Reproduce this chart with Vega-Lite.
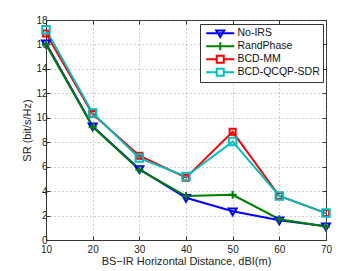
{
  "$schema": "https://vega.github.io/schema/vega-lite/v6.json",
  "width": 280,
  "height": 220,
  "autosize": {"type": "none"},
  "padding": {"left": 46, "top": 20, "right": 34, "bottom": 31},
  "background": "white",
  "config": {
    "font": "Liberation Sans",
    "view": {"stroke": "#333", "strokeWidth": 1},
    "axis": {
      "labelFont": "Liberation Sans",
      "titleFont": "Liberation Sans",
      "labelFontSize": 10,
      "titleFontSize": 11,
      "titleFontWeight": "normal",
      "labelColor": "#222",
      "titleColor": "#222",
      "domainColor": "#333",
      "tickColor": "#333",
      "tickSize": -4,
      "gridColor": "#777",
      "gridDash": [1, 3],
      "gridWidth": 0.7
    },
    "legend": {
      "labelFont": "Liberation Sans",
      "labelFontSize": 10.5,
      "labelFontWeight": "normal",
      "labelColor": "#111"
    }
  },
  "data": {
    "values": [
      {"x": 10, "y": 16.1, "s": "No-IRS"},
      {"x": 20, "y": 9.3, "s": "No-IRS"},
      {"x": 30, "y": 5.8, "s": "No-IRS"},
      {"x": 40, "y": 3.45, "s": "No-IRS"},
      {"x": 50, "y": 2.35, "s": "No-IRS"},
      {"x": 60, "y": 1.62, "s": "No-IRS"},
      {"x": 70, "y": 1.12, "s": "No-IRS"},
      {"x": 10, "y": 16.0, "s": "RandPhase"},
      {"x": 20, "y": 9.25, "s": "RandPhase"},
      {"x": 30, "y": 5.75, "s": "RandPhase"},
      {"x": 40, "y": 3.6, "s": "RandPhase"},
      {"x": 50, "y": 3.7, "s": "RandPhase"},
      {"x": 60, "y": 1.7, "s": "RandPhase"},
      {"x": 70, "y": 1.1, "s": "RandPhase"},
      {"x": 10, "y": 16.9, "s": "BCD-MM"},
      {"x": 20, "y": 10.3, "s": "BCD-MM"},
      {"x": 30, "y": 6.9, "s": "BCD-MM"},
      {"x": 40, "y": 5.1, "s": "BCD-MM"},
      {"x": 50, "y": 8.85, "s": "BCD-MM"},
      {"x": 60, "y": 3.6, "s": "BCD-MM"},
      {"x": 70, "y": 2.2, "s": "BCD-MM"},
      {"x": 10, "y": 17.2, "s": "BCD-QCQP-SDR"},
      {"x": 20, "y": 10.4, "s": "BCD-QCQP-SDR"},
      {"x": 30, "y": 6.7, "s": "BCD-QCQP-SDR"},
      {"x": 40, "y": 5.2, "s": "BCD-QCQP-SDR"},
      {"x": 50, "y": 8.05, "s": "BCD-QCQP-SDR"},
      {"x": 60, "y": 3.6, "s": "BCD-QCQP-SDR"},
      {"x": 70, "y": 2.2, "s": "BCD-QCQP-SDR"}
    ]
  },
  "resolve": {"axis": {"x": "independent", "y": "independent"}},
  "layer": [
    {
      "encoding": {
        "x": {
          "field": "x", "type": "quantitative",
          "scale": {"domain": [10, 70], "nice": false, "zero": false},
          "axis": {"values": [10, 20, 30, 40, 50, 60, 70], "title": "BS−IR Horizontal Distance, dBI(m)", "labelPadding": 8, "titlePadding": 1, "labelFlush": false}
        },
        "y": {
          "field": "y", "type": "quantitative",
          "scale": {"domain": [0, 18], "nice": false},
          "axis": {"values": [0, 2, 4, 6, 8, 10, 12, 14, 16, 18], "title": "SR (bit/s/Hz)", "labelPadding": 3, "titlePadding": 3, "labelFlush": false}
        },
        "color": {
          "field": "s", "type": "nominal",
          "scale": {
            "domain": ["No-IRS", "RandPhase", "BCD-MM", "BCD-QCQP-SDR"],
            "range": ["#0000FF", "#008000", "#FF0000", "#00BFBF"]
          }
        }
      },
      "layer": [
        {
          "mark": {"type": "line", "strokeWidth": 2},
          "encoding": {
            "color": {
              "field": "s", "type": "nominal",
              "legend": {
                "title": null,
                "orient": "none",
                "legendX": 154,
                "legendY": 4,
                "padding": 3,
                "strokeColor": "#333",
                "fillColor": "white",
                "symbolType": "M-1,0H1",
                "symbolSize": 36,
                "symbolStrokeWidth": 2,
                "rowPadding": 0,
                "clipHeight": 12.5,
                "labelOffset": 24,
                "encode": {
                  "symbols": {
                    "update": {
                      "shape": {"signal": "datum.value === 'No-IRS' ? 'M-0.67,0H8.67M2.67,-0.92L5.33,-0.92L4,1.25Z' : datum.value === 'RandPhase' ? 'M-0.67,0H8.67M4,-1.33V1.33' : 'M-0.67,0H2.83M5.17,0H8.67M2.83,-1.17H5.17V1.17H2.83Z'"},
                      "fill": {"value": "transparent"},
                      "strokeWidth": {"value": 2}
                    }
                  }
                }
              }
            }
          }
        },
        {
          "transform": [{"filter": "datum.s === 'No-IRS'"}],
          "mark": {"type": "point", "filled": false, "strokeWidth": 2, "opacity": 1, "shape": "M-1,-0.7L1,-0.7L0,1Z", "size": 64}
        },
        {
          "transform": [{"filter": "datum.s === 'RandPhase'"}],
          "mark": {"type": "point", "filled": false, "strokeWidth": 2, "opacity": 1, "shape": "M-1,0H1M0,-1V1", "size": 64}
        },
        {
          "transform": [{"filter": "datum.s === 'BCD-MM'"}],
          "mark": {"type": "point", "filled": false, "strokeWidth": 2, "opacity": 1, "shape": "square", "size": 36}
        },
        {
          "transform": [{"filter": "datum.s === 'BCD-QCQP-SDR'"}],
          "mark": {"type": "point", "filled": false, "strokeWidth": 2, "opacity": 1, "shape": "square", "size": 56}
        }
      ]
    },
    {
      "mark": {"type": "point", "opacity": 0},
      "encoding": {
        "x": {"field": "x", "type": "quantitative", "axis": {"orient": "top", "values": [10, 20, 30, 40, 50, 60, 70], "labels": false, "title": null, "grid": false, "domain": false}},
        "y": {"field": "y", "type": "quantitative", "axis": {"orient": "right", "values": [0, 2, 4, 6, 8, 10, 12, 14, 16, 18], "labels": false, "title": null, "grid": false, "domain": false}}
      }
    }
  ]
}
